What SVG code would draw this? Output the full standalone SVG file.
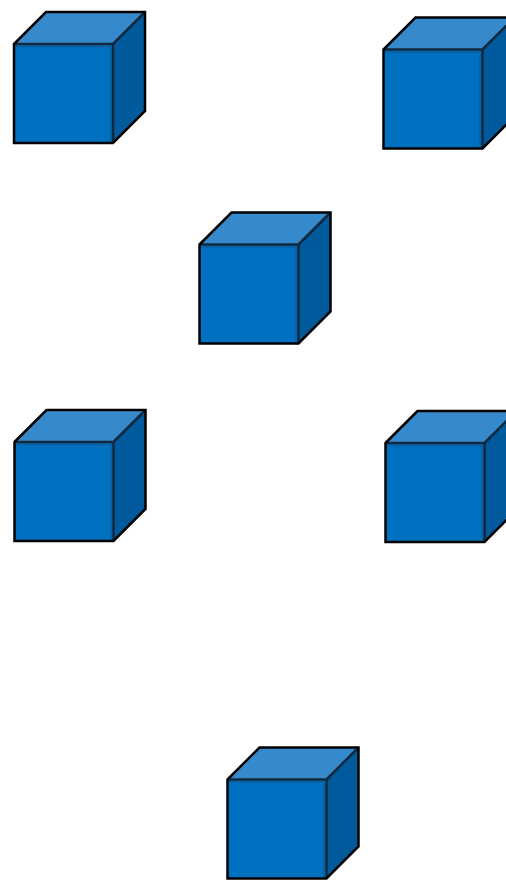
<svg xmlns="http://www.w3.org/2000/svg" xmlns:xlink="http://www.w3.org/1999/xlink" width="506" height="880" viewBox="0 0 506 880">
  <style>
    .front { fill: #0070c0; }
    .top { fill: #368acb; }
    .side { fill: #005a9c; }
    .outline { fill: none; stroke: #000000; stroke-width: 2.5; stroke-linejoin: miter; }
    .inner { fill: none; stroke: #12283c; stroke-width: 2.5; }
    .shade { fill: none; stroke: #0a5f9f; stroke-width: 1.5; }
  </style>
  <defs>
    <g id="cube">
      <path class="front" d="M0,0 H99 V99 H0 Z"/>
      <path class="top" d="M0,0 L32,-32 H131 L99,0 Z"/>
      <path class="side" d="M99,0 L131,-32 V67 L99,99 Z"/>
      <path class="shade" d="M1.5,2.5 H96.5 V98"/>
      <path class="inner" d="M0,0 H99 V99 M99,0 L131,-32"/>
      <path class="outline" d="M0,0 L32,-32 H131 V67 L99,99 H0 Z"/>
    </g>
  </defs>
  <rect x="0" y="0" width="506" height="880" fill="#ffffff"/>
  <g id="connectors"/>
  <g id="cube1"><use xlink:href="#cube" href="#cube" x="14" y="44"/></g>
  <g id="cube2"><use xlink:href="#cube" href="#cube" x="383.5" y="49.5"/></g>
  <g id="cube3"><use xlink:href="#cube" href="#cube" x="199.5" y="244.5"/></g>
  <g id="cube4"><use xlink:href="#cube" href="#cube" x="14.5" y="442"/></g>
  <g id="cube5"><use xlink:href="#cube" href="#cube" x="385.5" y="443"/></g>
  <g id="cube6"><use xlink:href="#cube" href="#cube" x="227.5" y="779.5"/></g>
</svg>
